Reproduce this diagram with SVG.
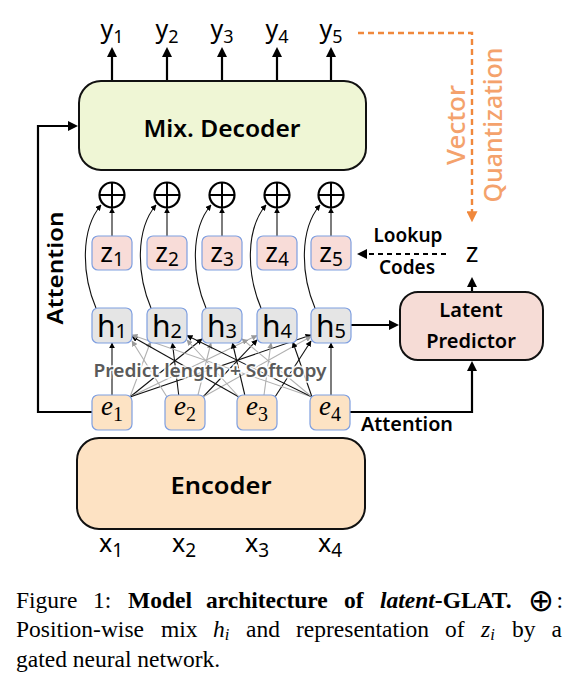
<svg xmlns="http://www.w3.org/2000/svg" width="576" height="686" viewBox="0 0 576 686">
<style>
.big{fill:none;stroke:#000;stroke-width:2.2}
.bigbox{stroke:#111;stroke-width:2}
.tok{stroke:#7f9fe0;stroke-width:1.2}
.thinB{fill:none;stroke:#111;stroke-width:1.1}
.thinG{fill:none;stroke:#b0b0b0;stroke-width:1.1}
.lab{font-family:"Noto Sans","DejaVu Sans",sans-serif;fill:#000}
.sans{font-family:"Noto Sans","DejaVu Sans",sans-serif;font-weight:600;fill:#000}
.ser{font-family:"Liberation Serif","Times New Roman",serif;font-size:23.5px;fill:#000}
.oplus circle{fill:none;stroke:#000;stroke-width:2.2}
.oplus line{stroke:#000;stroke-width:2}
</style>
<defs>
<marker id="arr" viewBox="0 0 10 10" refX="7" refY="5" markerWidth="10" markerHeight="10" orient="auto" markerUnits="userSpaceOnUse"><path d="M0,0 L10,5 L0,10 z" fill="#000"/></marker>
<marker id="arrS" viewBox="0 0 10 10" refX="9" refY="5" markerWidth="6" markerHeight="6" orient="auto" markerUnits="userSpaceOnUse"><path d="M0,0 L10,5 L0,10 z" fill="#000"/></marker>
<marker id="arrG" viewBox="0 0 10 10" refX="9" refY="5" markerWidth="6" markerHeight="6" orient="auto" markerUnits="userSpaceOnUse"><path d="M0,0 L10,5 L0,10 z" fill="#9a9a9a"/></marker>
<marker id="arrO" viewBox="0 0 10 10" refX="7" refY="5" markerWidth="11" markerHeight="11" orient="auto" markerUnits="userSpaceOnUse"><path d="M0,0 L10,5 L0,10 z" fill="#f0883c"/></marker>
</defs>

<!-- connectors -->
<g id="connectors">
  <line class="big" x1="112" y1="81" x2="112" y2="50" marker-end="url(#arr)"/>
  <line class="big" x1="167" y1="81" x2="167" y2="50" marker-end="url(#arr)"/>
  <line class="big" x1="222" y1="81" x2="222" y2="50" marker-end="url(#arr)"/>
  <line class="big" x1="277" y1="81" x2="277" y2="50" marker-end="url(#arr)"/>
  <line class="big" x1="331" y1="81" x2="331" y2="50" marker-end="url(#arr)"/>
  <path d="M358,33 H472 V219" fill="none" stroke="#f0883c" stroke-width="2.4" stroke-dasharray="6 4" marker-end="url(#arrO)"/>
  <line class="thinB" x1="112" y1="236" x2="112" y2="208" marker-end="url(#arrS)"/>
  <line class="thinB" x1="167" y1="236" x2="167" y2="208" marker-end="url(#arrS)"/>
  <line class="thinB" x1="222" y1="236" x2="222" y2="208" marker-end="url(#arrS)"/>
  <line class="thinB" x1="277" y1="236" x2="277" y2="208" marker-end="url(#arrS)"/>
  <line class="thinB" x1="331" y1="236" x2="331" y2="208" marker-end="url(#arrS)"/>
  <path class="thinB" d="M96,308 C82,275 80,230 101,205" marker-end="url(#arrS)"/>
  <path class="thinB" d="M151,308 C137,275 135,230 156,205" marker-end="url(#arrS)"/>
  <path class="thinB" d="M206,308 C192,275 190,230 211,205" marker-end="url(#arrS)"/>
  <path class="thinB" d="M261,308 C247,275 245,230 266,205" marker-end="url(#arrS)"/>
  <path class="thinB" d="M315,308 C301,275 299,230 320,205" marker-end="url(#arrS)"/>
  <line x1="446" y1="254" x2="360" y2="254" stroke="#000" stroke-width="2" stroke-dasharray="5 4" marker-end="url(#arr)"/>
  <line class="big" x1="472" y1="292" x2="472" y2="280" marker-end="url(#arr)"/>
  <line class="big" x1="351" y1="325" x2="396" y2="325" marker-end="url(#arr)"/>
  <path class="big" d="M350,412 H472 V364" marker-end="url(#arr)"/>
  <path class="big" d="M92,412 H38 V126 H75" marker-end="url(#arr)"/>
  <line class="thinB" x1="112" y1="395" x2="112" y2="343" marker-end="url(#arrS)"/>
  <line class="thinG" x1="130" y1="397" x2="150.5" y2="342" marker-end="url(#arrG)"/>
  <line class="thinB" x1="130" y1="397" x2="202" y2="339" marker-end="url(#arrS)"/>
  <line class="thinG" x1="130" y1="397" x2="257" y2="335.5" marker-end="url(#arrG)"/>
  <line class="thinB" x1="130" y1="397" x2="311" y2="335" marker-end="url(#arrS)"/>
  <line class="thinG" x1="167" y1="397" x2="132" y2="341" marker-end="url(#arrG)"/>
  <line class="thinB" x1="178.7" y1="395" x2="172.4" y2="343" marker-end="url(#arrS)"/>
  <line class="thinG" x1="198" y1="395" x2="210.9" y2="343" marker-end="url(#arrG)"/>
  <line class="thinB" x1="203" y1="397" x2="257" y2="340" marker-end="url(#arrS)"/>
  <line class="thinG" x1="203" y1="397" x2="311" y2="336.6" marker-end="url(#arrG)"/>
  <line class="thinB" x1="239" y1="397" x2="132" y2="336.6" marker-end="url(#arrS)"/>
  <line class="thinG" x1="239" y1="397" x2="187" y2="340" marker-end="url(#arrG)"/>
  <line class="thinB" x1="244.8" y1="395" x2="232.5" y2="343" marker-end="url(#arrS)"/>
  <line class="thinG" x1="264" y1="395" x2="271" y2="343" marker-end="url(#arrG)"/>
  <line class="thinB" x1="275" y1="397" x2="311" y2="341" marker-end="url(#arrS)"/>
  <line class="thinG" x1="312" y1="397" x2="132" y2="335" marker-end="url(#arrG)"/>
  <line class="thinB" x1="312" y1="397" x2="187" y2="335.6" marker-end="url(#arrS)"/>
  <line class="thinG" x1="312" y1="397" x2="242" y2="338.9" marker-end="url(#arrG)"/>
  <line class="thinB" x1="312" y1="397" x2="292.9" y2="342.2" marker-end="url(#arrS)"/>
  <line class="thinB" x1="331" y1="395" x2="331" y2="343" marker-end="url(#arrS)"/>
</g>

<g id="outputs" class="lab" font-size="25">
  <text x="112" y="38" text-anchor="middle">y<tspan font-size="18" dy="5">1</tspan></text>
  <text x="167" y="38" text-anchor="middle">y<tspan font-size="18" dy="5">2</tspan></text>
  <text x="222" y="38" text-anchor="middle">y<tspan font-size="18" dy="5">3</tspan></text>
  <text x="277" y="38" text-anchor="middle">y<tspan font-size="18" dy="5">4</tspan></text>
  <text x="331" y="38" text-anchor="middle">y<tspan font-size="18" dy="5">5</tspan></text>
</g>

<g id="decoder">
  <rect class="bigbox" x="79" y="81" width="287" height="89" rx="22" fill="#eff6d5"/>
  <text class="sans" x="222" y="137" font-size="23" text-anchor="middle" textLength="157" lengthAdjust="spacingAndGlyphs">Mix. Decoder</text>
</g>

<g id="vq-label" font-family="Noto Sans, DejaVu Sans, sans-serif" font-size="26" font-weight="500" fill="#f4a26c">
  <text transform="translate(465,125) rotate(-90)" text-anchor="middle" textLength="80" lengthAdjust="spacingAndGlyphs">Vector</text>
  <text transform="translate(502,125) rotate(-90)" text-anchor="middle" textLength="155" lengthAdjust="spacingAndGlyphs">Quantization</text>
</g>

<g id="oplus" class="oplus">
  <g><circle cx="112" cy="195" r="12.5"/><line x1="99.5" y1="195" x2="124.5" y2="195"/><line x1="112" y1="182.5" x2="112" y2="207.5"/></g>
  <g><circle cx="167" cy="195" r="12.5"/><line x1="154.5" y1="195" x2="179.5" y2="195"/><line x1="167" y1="182.5" x2="167" y2="207.5"/></g>
  <g><circle cx="222" cy="195" r="12.5"/><line x1="209.5" y1="195" x2="234.5" y2="195"/><line x1="222" y1="182.5" x2="222" y2="207.5"/></g>
  <g><circle cx="277" cy="195" r="12.5"/><line x1="264.5" y1="195" x2="289.5" y2="195"/><line x1="277" y1="182.5" x2="277" y2="207.5"/></g>
  <g><circle cx="331" cy="195" r="12.5"/><line x1="318.5" y1="195" x2="343.5" y2="195"/><line x1="331" y1="182.5" x2="331" y2="207.5"/></g>
</g>

<g id="z-tokens" class="lab" font-size="27">
  <rect class="tok" x="92" y="236" width="40" height="34" rx="6" fill="#f8dcd8"/>
  <rect class="tok" x="147" y="236" width="40" height="34" rx="6" fill="#f8dcd8"/>
  <rect class="tok" x="202" y="236" width="40" height="34" rx="6" fill="#f8dcd8"/>
  <rect class="tok" x="257" y="236" width="40" height="34" rx="6" fill="#f8dcd8"/>
  <rect class="tok" x="311" y="236" width="40" height="34" rx="6" fill="#f8dcd8"/>
  <text x="112" y="262" text-anchor="middle">z<tspan font-size="19" dy="4">1</tspan></text>
  <text x="167" y="262" text-anchor="middle">z<tspan font-size="19" dy="4">2</tspan></text>
  <text x="222" y="262" text-anchor="middle">z<tspan font-size="19" dy="4">3</tspan></text>
  <text x="277" y="262" text-anchor="middle">z<tspan font-size="19" dy="4">4</tspan></text>
  <text x="331" y="262" text-anchor="middle">z<tspan font-size="19" dy="4">5</tspan></text>
</g>

<g id="lookup-label" class="sans" font-size="19">
  <text x="408" y="242" text-anchor="middle">Lookup</text>
  <text x="407" y="274" text-anchor="middle">Codes</text>
</g>

<g id="z-code" class="lab" font-size="27">
  <text x="472" y="262" text-anchor="middle">z</text>
</g>

<g id="h-tokens" class="lab" font-size="30">
  <rect class="tok" x="92" y="308" width="40" height="35" rx="6" fill="#e5e5e5"/>
  <rect class="tok" x="147" y="308" width="40" height="35" rx="6" fill="#e5e5e5"/>
  <rect class="tok" x="202" y="308" width="40" height="35" rx="6" fill="#e5e5e5"/>
  <rect class="tok" x="257" y="308" width="40" height="35" rx="6" fill="#e5e5e5"/>
  <rect class="tok" x="311" y="308" width="40" height="35" rx="6" fill="#e5e5e5"/>
  <text x="112" y="337" text-anchor="middle">h<tspan font-size="20" dy="1">1</tspan></text>
  <text x="167" y="337" text-anchor="middle">h<tspan font-size="20" dy="1">2</tspan></text>
  <text x="222" y="337" text-anchor="middle">h<tspan font-size="20" dy="1">3</tspan></text>
  <text x="277" y="337" text-anchor="middle">h<tspan font-size="20" dy="1">4</tspan></text>
  <text x="331" y="337" text-anchor="middle">h<tspan font-size="20" dy="1">5</tspan></text>
</g>

<g id="latent-predictor">
  <rect class="bigbox" x="400" y="292" width="143" height="68" rx="18" fill="#f6dcd6"/>
  <text class="sans" x="471" y="317" font-size="20" text-anchor="middle">Latent</text>
  <text class="sans" x="471" y="348" font-size="20" text-anchor="middle">Predictor</text>
</g>

<g id="softcopy-label">
  <text x="210" y="377" text-anchor="middle" font-family="Noto Sans, DejaVu Sans, sans-serif" font-weight="600" font-size="18" fill="#5a5a5a" stroke="#ffffff" stroke-opacity="0.85" stroke-width="3.5" paint-order="stroke" textLength="233" lengthAdjust="spacingAndGlyphs">Predict length + Softcopy</text>
</g>

<g id="e-tokens" font-family="Liberation Serif, Times New Roman, serif" fill="#000">
  <rect class="tok" x="92" y="395" width="40" height="35" rx="6" fill="#fde3c4"/>
  <rect class="tok" x="165" y="395" width="40" height="35" rx="6" fill="#fde3c4"/>
  <rect class="tok" x="237" y="395" width="40" height="35" rx="6" fill="#fde3c4"/>
  <rect class="tok" x="310" y="395" width="40" height="35" rx="6" fill="#fde3c4"/>
  <text x="112" y="415" font-size="27" text-anchor="middle"><tspan font-style="italic">e</tspan><tspan font-size="20" dy="6">1</tspan></text>
  <text x="185" y="415" font-size="27" text-anchor="middle"><tspan font-style="italic">e</tspan><tspan font-size="20" dy="6">2</tspan></text>
  <text x="257" y="415" font-size="27" text-anchor="middle"><tspan font-style="italic">e</tspan><tspan font-size="20" dy="6">3</tspan></text>
  <text x="330" y="415" font-size="27" text-anchor="middle"><tspan font-style="italic">e</tspan><tspan font-size="20" dy="6">4</tspan></text>
</g>

<g id="attention-labels" class="sans" font-weight="700">
  <text transform="translate(63,268) rotate(-90)" font-size="22" text-anchor="middle" textLength="113" lengthAdjust="spacingAndGlyphs">Attention</text>
  <text x="361" y="431" font-size="19" textLength="92" lengthAdjust="spacingAndGlyphs">Attention</text>
</g>

<g id="encoder">
  <rect class="bigbox" x="77" y="438" width="288" height="91" rx="22" fill="#fde2c3"/>
  <text class="sans" x="221" y="494" font-size="24" text-anchor="middle" textLength="101" lengthAdjust="spacingAndGlyphs">Encoder</text>
</g>

<g id="inputs" class="lab" font-size="25">
  <text x="111" y="552" text-anchor="middle">x<tspan font-size="19" dy="5">1</tspan></text>
  <text x="184" y="552" text-anchor="middle">x<tspan font-size="19" dy="5">2</tspan></text>
  <text x="257" y="552" text-anchor="middle">x<tspan font-size="19" dy="5">3</tspan></text>
  <text x="330" y="552" text-anchor="middle">x<tspan font-size="19" dy="5">4</tspan></text>
</g>

<g id="caption" class="ser">
  <text x="16" y="608">Figure</text>
  <text x="93" y="608">1:</text>
  <text x="128" y="608" font-weight="bold">Model</text>
  <text x="206" y="608" font-weight="bold">architecture</text>
  <text x="344" y="608" font-weight="bold">of</text>
  <text x="380" y="608" font-weight="bold"><tspan font-style="italic">latent</tspan>-GLAT.</text>
  <text x="528" y="611" font-family="DejaVu Sans, sans-serif" font-size="31">⊕</text>
  <text x="563" y="608" text-anchor="end">:</text>
  <text x="16" y="637">Position-wise</text>
  <text x="161" y="637">mix</text>
  <text x="213" y="637"><tspan font-style="italic">h</tspan><tspan font-style="italic" font-size="16.5" dy="3">i</tspan></text>
  <text x="246" y="637">and</text>
  <text x="296" y="637">representation</text>
  <text x="445" y="637">of</text>
  <text x="481" y="637"><tspan font-style="italic">z</tspan><tspan font-style="italic" font-size="16.5" dy="3">i</tspan></text>
  <text x="512" y="637">by</text>
  <text x="562" y="637" text-anchor="end">a</text>
  <text x="16" y="667">gated neural network.</text>
</g>
</svg>
